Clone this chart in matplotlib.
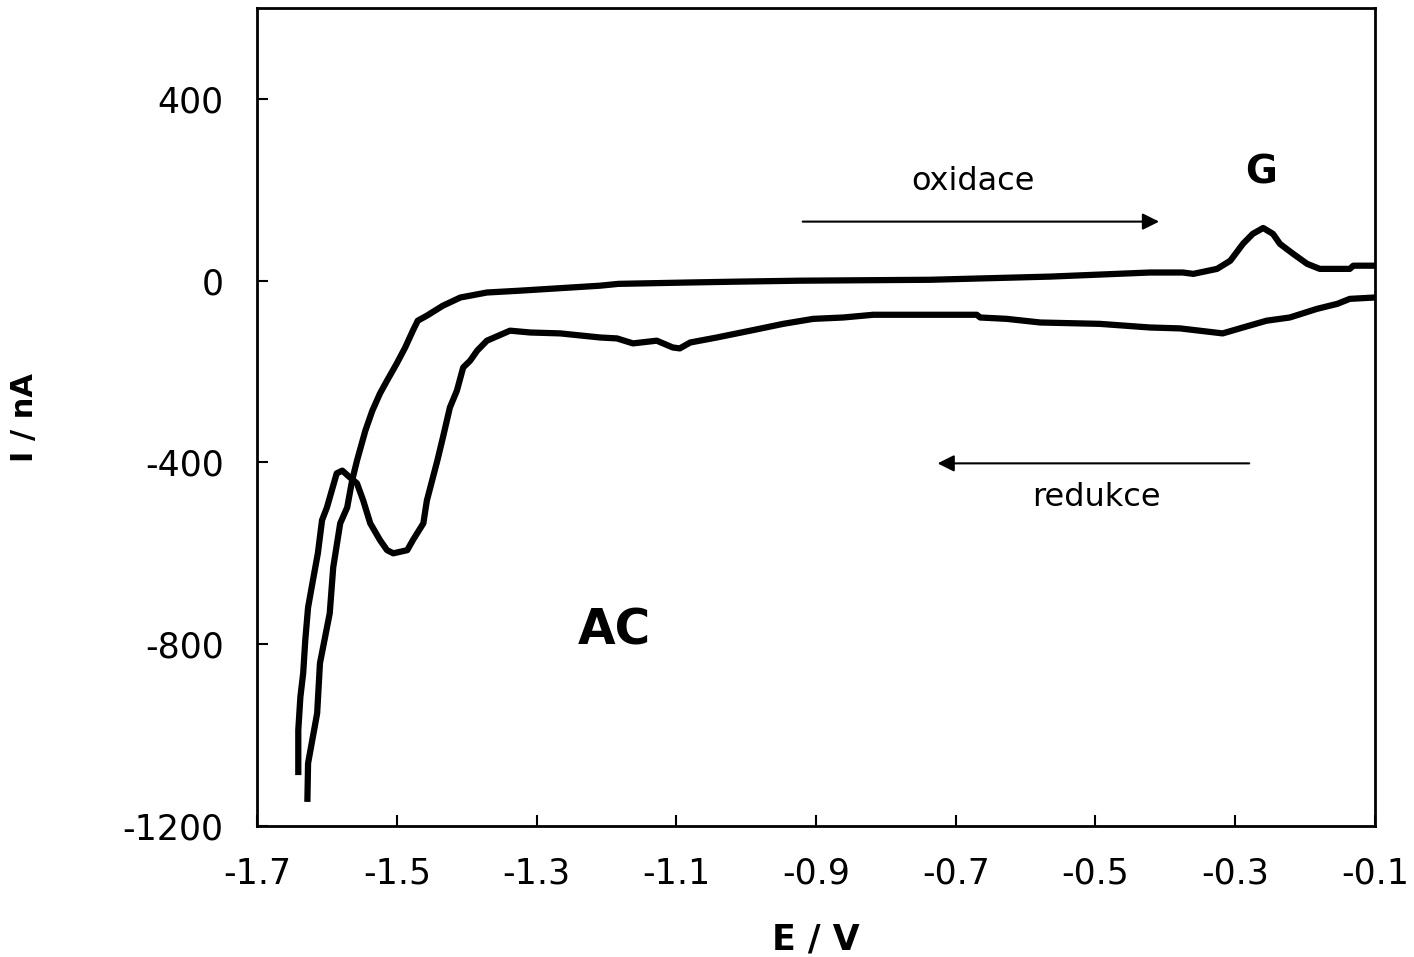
import numpy as np
import matplotlib
matplotlib.use('Agg')
import matplotlib.pyplot as plt

# oxidation scan (left -> right), E in V, I in nA
E_ox = [-1.628, -1.627, -1.614, -1.610, -1.596, -1.591, -1.581, -1.571, -1.564, -1.557,
        -1.545, -1.535, -1.524, -1.514, -1.500, -1.488, -1.477, -1.470, -1.457, -1.434,
        -1.409, -1.371, -1.324, -1.209, -1.183, -1.083, -1.009, -0.923, -0.737, -0.565,
        -0.422, -0.375, -0.360, -0.326, -0.307, -0.289, -0.275, -0.260, -0.246, -0.236,
        -0.217, -0.197, -0.179, -0.136, -0.131, -0.100]
I_ox = [-1147, -1062, -952, -842, -732, -631, -534, -499, -440, -396,
        -330, -286, -248, -220, -182, -147, -110, -88, -77, -55,
        -37, -26, -22, -11, -7, -4, -2, 0, 2, 9,
        18, 18, 15, 26, 44, 81, 103, 116, 103, 81,
        59, 37, 26, 26, 33, 33]

# reduction scan (right -> left)
E_red = [-0.100, -0.136, -0.154, -0.183, -0.222, -0.255, -0.289, -0.318, -0.379, -0.422,
         -0.494, -0.579, -0.627, -0.665, -0.670, -0.818, -0.861, -0.904, -0.947, -0.994,
         -1.042, -1.080, -1.095, -1.105, -1.128, -1.162, -1.185, -1.209, -1.266, -1.309,
         -1.338, -1.371, -1.385, -1.395, -1.405, -1.414, -1.424, -1.434, -1.442, -1.457,
         -1.462, -1.477, -1.485, -1.505, -1.514, -1.524, -1.538, -1.548, -1.557, -1.570,
         -1.578, -1.586, -1.600, -1.607, -1.613, -1.620, -1.627, -1.631, -1.634, -1.638,
         -1.641, -1.641]
I_red = [-37, -40, -51, -62, -81, -88, -103, -116, -105, -103,
         -95, -92, -84, -81, -75, -75, -81, -84, -95, -110,
         -125, -136, -149, -147, -132, -138, -127, -125, -116, -114,
         -110, -132, -154, -176, -191, -242, -279, -345, -396, -484,
         -534, -571, -593, -600, -593, -571, -534, -484, -446, -429,
         -418, -424, -499, -527, -600, -659, -719, -791, -864, -916,
         -989, -1088]

xticks = [-1.7, -1.5, -1.3, -1.1, -0.9, -0.7, -0.5, -0.3, -0.1]
yticks = [-1200, -800, -400, 0, 400]

fig = plt.figure(figsize=(14.14, 9.57), dpi=100)
ax = fig.add_axes([0.1818, 0.1369, 0.7906, 0.8547])

ax.plot(E_ox, I_ox, color='black', lw=4.5, solid_capstyle='butt')
ax.plot(E_red, I_red, color='black', lw=4.5, solid_capstyle='butt')

# scan direction arrows
ax.annotate('', xy=(-0.405, 130), xytext=(-0.923, 130),
            arrowprops=dict(arrowstyle='-|>', color='black', lw=1.5, mutation_scale=25))
ax.annotate('', xy=(-0.730, -402), xytext=(-0.276, -402),
            arrowprops=dict(arrowstyle='-|>', color='black', lw=1.5, mutation_scale=25))

ax.text(-0.675, 218, 'oxidace', fontsize=23, ha='center', va='center')
ax.text(-0.498, -477, 'redukce', fontsize=23, ha='center', va='center')
ax.text(-1.188, -769, 'AC', fontsize=35, fontweight='bold', ha='center', va='center')
ax.text(-0.263, 237, 'G', fontsize=28, fontweight='bold', ha='center', va='center')

ax.set_xlim(-1.7, -0.1)
ax.set_ylim(-1200, 600)
ax.set_xticks(xticks)
ax.set_xticklabels([str(t) for t in xticks])
ax.set_yticks(yticks)
ax.set_yticklabels([str(t) for t in yticks])
ax.tick_params(direction='in', length=8, width=1.5, labelsize=25)
ax.tick_params(axis='x', pad=22)
ax.tick_params(axis='y', pad=24)
for s in ax.spines.values():
    s.set_linewidth(2)

ax.set_xlabel('E / V', fontsize=25, fontweight='bold', labelpad=23)
ax.set_ylabel('I / nA', fontsize=22, fontweight='bold', labelpad=60)

fig.savefig('out.png', dpi=100)
